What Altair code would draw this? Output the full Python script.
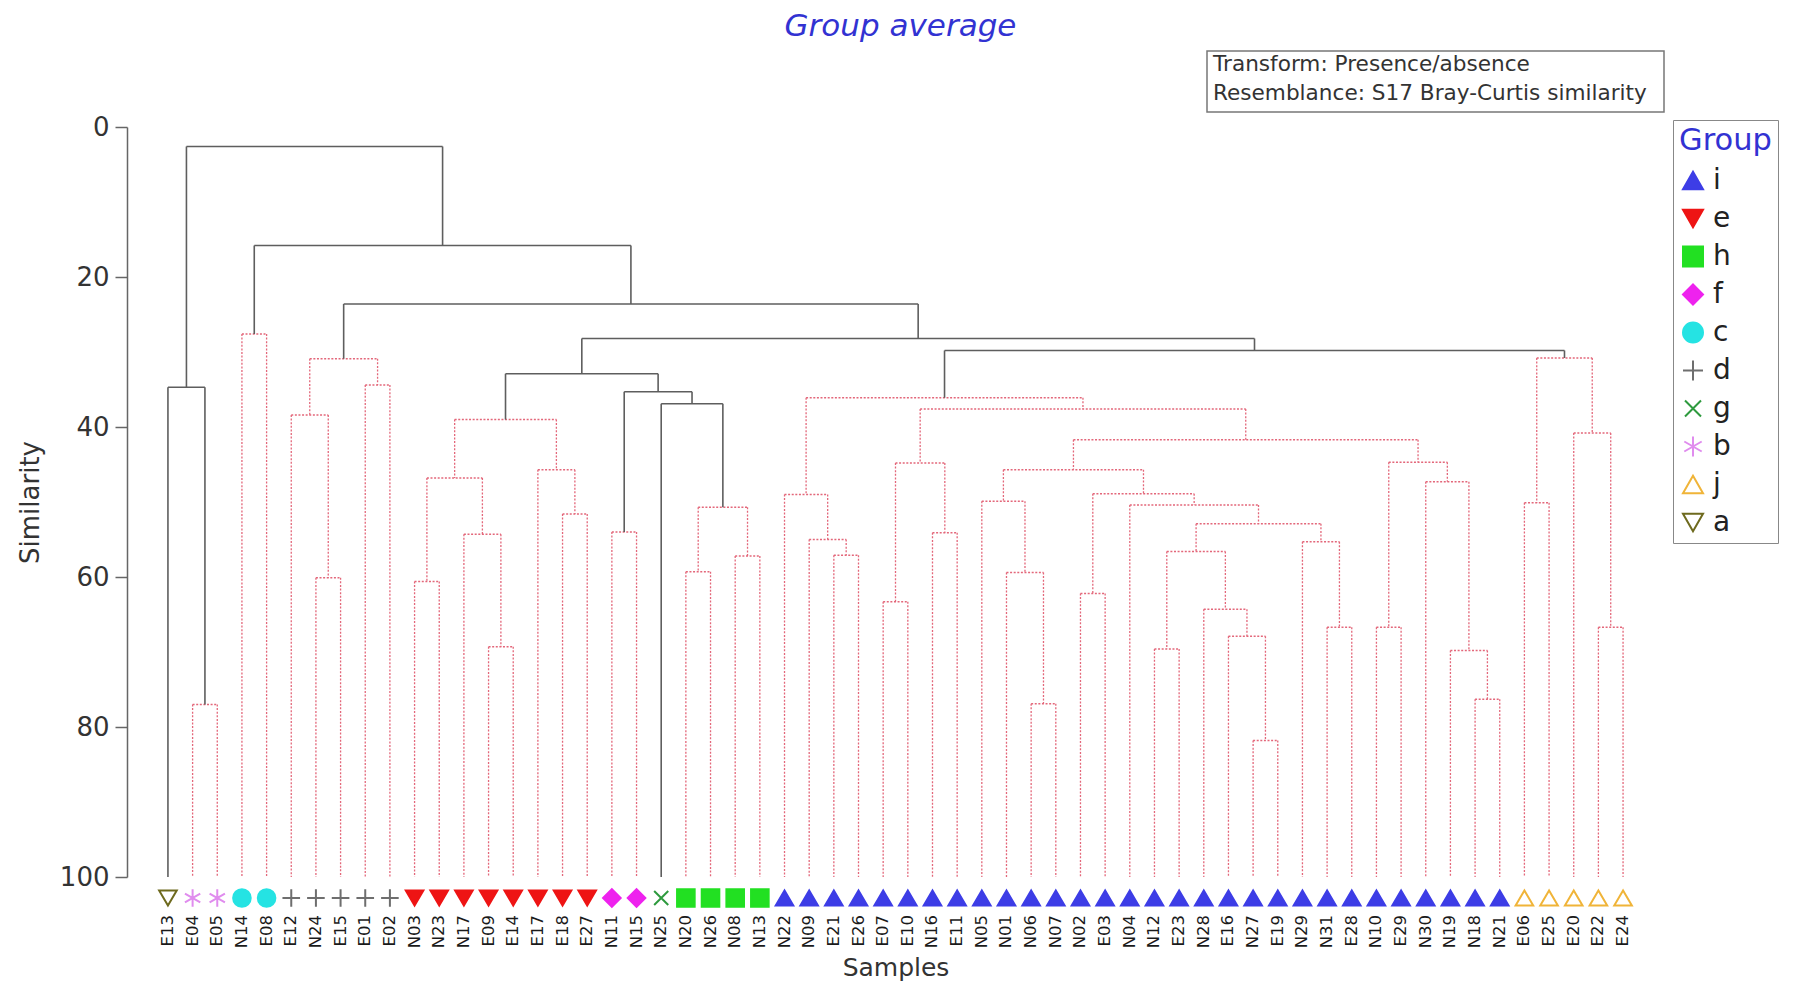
import altair as alt
import pandas as pd

# ---------------- data ----------------
leaf_names = ["E13", "E04", "E05", "N14", "E08", "E12", "N24", "E15", "E01", "E02",
              "N03", "N23", "N17", "E09", "E14", "E17", "E18", "E27",
              "N11", "N15", "N25", "N20", "N26", "N08", "N13",
              "N22", "N09", "E21", "E26", "E07", "E10", "N16", "E11", "N05", "N01",
              "N06", "N07", "N02", "E03", "N04", "N12", "E23", "N28", "E16", "N27",
              "E19", "N29", "N31", "E28", "N10", "E29", "N30", "N19", "N18", "N21",
              "E06", "E25", "E20", "E22", "E24"]

leaf_groups = ["a", "b", "b", "c", "c", "d", "d", "d", "d", "d",
               "e", "e", "e", "e", "e", "e", "e", "e",
               "f", "f", "g", "h", "h", "h", "h",
               "i", "i", "i", "i", "i", "i", "i", "i", "i", "i",
               "i", "i", "i", "i", "i", "i", "i", "i", "i", "i",
               "i", "i", "i", "i", "i", "i", "i", "i", "i", "i",
               "j", "j", "j", "j", "j"]

leaf_similarity = 100.0

# (node, left child, right child, similarity, significant split -> solid black)
merges = [
    ("m_E04E05", "E04", "E05", 77.0, False),
    ("m_a", "E13", "m_E04E05", 34.7, True),
    ("m_c", "N14", "E08", 27.6, False),
    ("m_N24E15", "N24", "E15", 60.1, False),
    ("m_E12", "E12", "m_N24E15", 38.4, False),
    ("m_E01E02", "E01", "E02", 34.4, False),
    ("m_d", "m_E12", "m_E01E02", 30.9, False),
    ("m_N03N23", "N03", "N23", 60.6, False),
    ("m_E09E14", "E09", "E14", 69.3, False),
    ("m_N17", "N17", "m_E09E14", 54.3, False),
    ("m_e1", "m_N03N23", "m_N17", 46.8, False),
    ("m_E18E27", "E18", "E27", 51.6, False),
    ("m_E17", "E17", "m_E18E27", 45.7, False),
    ("m_e", "m_e1", "m_E17", 39.0, False),
    ("m_f", "N11", "N15", 54.0, False),
    ("m_N20N26", "N20", "N26", 59.3, False),
    ("m_N08N13", "N08", "N13", 57.2, False),
    ("m_h", "m_N20N26", "m_N08N13", 50.7, False),
    ("m_gh", "N25", "m_h", 36.9, True),
    ("m_fgh", "m_f", "m_gh", 35.3, True),
    ("m_efgh", "m_e", "m_fgh", 32.9, True),
    ("m_E21E26", "E21", "E26", 57.1, False),
    ("m_N09", "N09", "m_E21E26", 55.0, False),
    ("m_N22", "N22", "m_N09", 49.0, False),
    ("m_E07E10", "E07", "E10", 63.3, False),
    ("m_N16E11", "N16", "E11", 54.1, False),
    ("m_E07N16", "m_E07E10", "m_N16E11", 44.8, False),
    ("m_N06N07", "N06", "N07", 76.9, False),
    ("m_N01", "N01", "m_N06N07", 59.4, False),
    ("m_N05", "N05", "m_N01", 49.9, False),
    ("m_N02E03", "N02", "E03", 62.2, False),
    ("m_N12E23", "N12", "E23", 69.6, False),
    ("m_N27E19", "N27", "E19", 81.8, False),
    ("m_E16", "E16", "m_N27E19", 67.9, False),
    ("m_N28", "N28", "m_E16", 64.3, False),
    ("m_N12N28", "m_N12E23", "m_N28", 56.6, False),
    ("m_N31E28", "N31", "E28", 66.7, False),
    ("m_N29", "N29", "m_N31E28", 55.3, False),
    ("m_b53", "m_N12N28", "m_N29", 52.9, False),
    ("m_N04", "N04", "m_b53", 50.4, False),
    ("m_b49", "m_N02E03", "m_N04", 48.9, False),
    ("m_b46", "m_N05", "m_b49", 45.7, False),
    ("m_N10E29", "N10", "E29", 66.7, False),
    ("m_N18N21", "N18", "N21", 76.3, False),
    ("m_N19", "N19", "m_N18N21", 69.8, False),
    ("m_N30", "N30", "m_N19", 47.3, False),
    ("m_b45", "m_N10E29", "m_N30", 44.7, False),
    ("m_b42", "m_b46", "m_b45", 41.7, False),
    ("m_b38", "m_E07N16", "m_b42", 37.6, False),
    ("m_i", "m_N22", "m_b38", 36.1, False),
    ("m_E06E25", "E06", "E25", 50.1, False),
    ("m_E22E24", "E22", "E24", 66.7, False),
    ("m_E20", "E20", "m_E22E24", 40.8, False),
    ("m_j", "m_E06E25", "m_E20", 30.8, False),
    ("m_ij", "m_i", "m_j", 29.8, True),
    ("m_eij", "m_efgh", "m_ij", 28.2, True),
    ("m_deij", "m_d", "m_eij", 23.6, True),
    ("m_cdeij", "m_c", "m_deij", 15.8, True),
    ("m_root", "m_a", "m_cdeij", 2.6, True),
]

group_order = ["i", "e", "h", "f", "c", "d", "g", "b", "j", "a"]
group_shapes = ["triangle-up", "triangle-down", "square", "diamond", "circle",
                "M-1,0L1,0M0,-1L0,1",
                "M-0.8,-0.8L0.8,0.8M-0.8,0.8L0.8,-0.8",
                "M0,-1L0,1M-0.87,-0.5L0.87,0.5M-0.87,0.5L0.87,-0.5",
                "triangle-up", "triangle-down"]
group_strokes = ["#3d3de6", "#ee1414", "#22e022", "#ee22ee", "#25e3e3",
                 "#6e6e6e", "#2e9a3e", "#e08cee", "#f0b438", "#6e6a1e"]
group_fills = ["#3d3de6", "#ee1414", "#22e022", "#ee22ee", "#25e3e3",
               "transparent", "transparent", "transparent", "transparent", "transparent"]

info_lines = ["Transform: Presence/absence", "Resemblance: S17 Bray-Curtis similarity"]

# ---------------- build segments ----------------
pos = {n: i for i, n in enumerate(leaf_names)}
hgt = {n: leaf_similarity for n in leaf_names}
rows = []
for node, left, right, h, solid in merges:
    style = "solid" if solid else "dotted"
    xl, xr = pos[left], pos[right]
    rows.append(dict(x=xl, x2=xr, y=h, y2=h, style=style))
    rows.append(dict(x=xl, x2=xl, y=h, y2=hgt[left], style=style))
    rows.append(dict(x=xr, x2=xr, y=h, y2=hgt[right], style=style))
    pos[node] = (xl + xr) / 2.0
    hgt[node] = h
seg_df = pd.DataFrame(rows)

leaf_df = pd.DataFrame({
    "idx": list(range(len(leaf_names))),
    "name": leaf_names,
    "group": leaf_groups,
    "sim": [leaf_similarity] * len(leaf_names),
})

# ---------------- scales / axes ----------------
FONT = "DejaVu Sans"
xscale = alt.Scale(domain=[-1.66, 60.66], nice=False, zero=False)
yscale = alt.Scale(domain=[0, 100], reverse=True, nice=False, zero=False)
xaxis = alt.Axis(labels=False, ticks=False, domain=False, grid=False, title="Samples",
                 titleFontSize=25, titleFontWeight="normal", titleColor="#333333",
                 titleFont=FONT, titlePadding=78)
yaxis = alt.Axis(values=[0, 20, 40, 60, 80, 100], grid=False, title="Similarity",
                 tickSize=12, tickWidth=1.5, tickColor="#666666",
                 domainColor="#666666", domainWidth=1.5,
                 labelFontSize=26, labelColor="#333333", labelFont=FONT, labelPadding=6,
                 titleFontSize=26, titleFontWeight="normal", titleColor="#333333",
                 titleFont=FONT, titlePadding=16)

def X(field):
    return alt.X(field, type="quantitative", scale=xscale, axis=xaxis)

def Y(field):
    return alt.Y(field, type="quantitative", scale=yscale, axis=yaxis)

dotted = alt.Chart(seg_df).transform_filter(alt.datum.style == "dotted").mark_rule(
    color="#e3677a", strokeWidth=1.3, strokeDash=[2, 1.6]
).encode(x=X("x"), x2="x2", y=Y("y"), y2="y2")

solid = alt.Chart(seg_df).transform_filter(alt.datum.style == "solid").mark_rule(
    color="#5e5e5e", strokeWidth=1.6
).encode(x=X("x"), x2="x2", y=Y("y"), y2="y2")

legend = alt.Legend(
    title="Group", orient="none", legendX=1546, legendY=-7,
    titleFontSize=30.5, titleColor="#3232d2", titleFontWeight="normal", titleFont=FONT,
    titlePadding=10, labelFontSize=28, labelFont=FONT, labelColor="#222222",
    symbolSize=400, symbolStrokeWidth=2, rowPadding=10, padding=6,
    strokeColor="#888888", fillColor="white", labelOffset=6,
)

markers = alt.Chart(leaf_df).mark_point(size=310, strokeWidth=2, opacity=1).encode(
    x=X("idx"),
    y=Y("sim"),
    yOffset=alt.value(21),
    shape=alt.Shape("group:N", scale=alt.Scale(domain=group_order, range=group_shapes), legend=legend),
    fill=alt.Fill("group:N", scale=alt.Scale(domain=group_order, range=group_fills), legend=legend),
    stroke=alt.Stroke("group:N", scale=alt.Scale(domain=group_order, range=group_strokes), legend=legend),
)

labels = alt.Chart(leaf_df).mark_text(
    angle=270, align="right", baseline="middle", fontSize=16.5, font=FONT, color="#1a1a1a"
).encode(x=X("idx"), y=Y("sim"), yOffset=alt.value(38), text="name:N")

info_box = alt.Chart(pd.DataFrame({"k": [0]})).mark_rect(
    fill="white", stroke="#777777", strokeWidth=1.5
).encode(x=alt.value(1080), x2=alt.value(1537), y=alt.value(-76), y2=alt.value(-15))

info_text = alt.Chart(pd.DataFrame({"k": [0]})).mark_text(
    text=info_lines, align="left", baseline="middle", fontSize=21.6, font=FONT,
    color="#333333", lineHeight=29
).encode(x=alt.value(1086), y=alt.value(-62))

chart = alt.layer(dotted, solid, markers, labels, info_box, info_text).properties(
    width=1537, height=750,
    autosize=alt.AutoSizeParams(type="none"),
    padding={"left": 119, "top": 119, "right": 122, "bottom": 104},
    title=alt.TitleParams("Group average", fontSize=31, font=FONT, fontStyle="italic",
                          fontWeight="normal", color="#3232d2", anchor="middle",
                          frame="group", offset=7, dx=5),
).configure(font=FONT).configure_view(stroke=None)

chart.save("out.html", embed_options={"renderer": "svg", "actions": False})
